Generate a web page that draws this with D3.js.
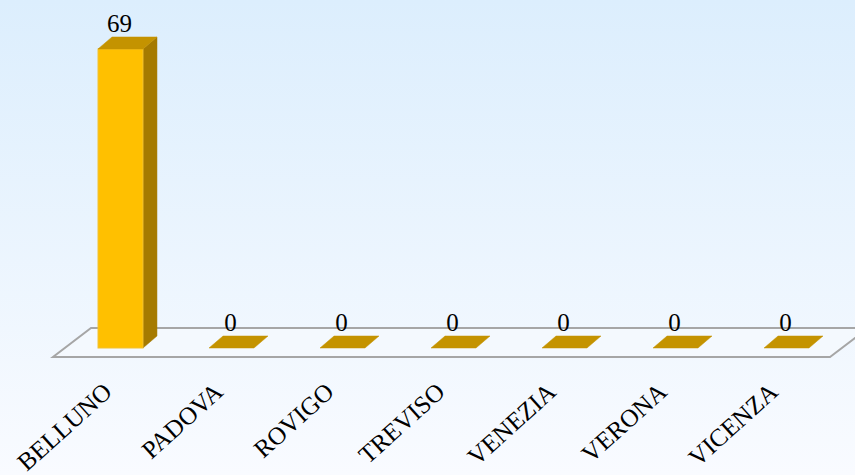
<!DOCTYPE html>
<html>
<head>
<meta charset="utf-8">
<script src="https://cdn.jsdelivr.net/npm/d3@7/dist/d3.min.js"></script>
<style>
  html, body { margin: 0; padding: 0; overflow: hidden; }
  svg { display: block; }
</style>
</head>
<body>
<svg id="chart" width="855" height="475"></svg>
<script>
const categories = ["BELLUNO", "PADOVA", "ROVIGO", "TREVISO", "VENEZIA", "VERONA", "VICENZA"];
const values = [69, 0, 0, 0, 0, 0, 0];
const valueLabels = ["69", "0", "0", "0", "0", "0", "0"];

const W = 855, H = 475;
const FONT = "'Liberation Serif', 'Times New Roman', Times, 'DejaVu Serif', serif";
const svg = d3.select("#chart");

// background gradient
const defs = svg.append("defs");
const bg = defs.append("linearGradient").attr("id", "bg").attr("x1", 0).attr("y1", 0).attr("x2", 0).attr("y2", 1);
bg.append("stop").attr("offset", "0%").attr("stop-color", "#DCEEFD");
bg.append("stop").attr("offset", "100%").attr("stop-color", "#F9FBFF");
svg.append("rect").attr("width", W).attr("height", H).attr("fill", "url(#bg)");

// floor geometry
const floorFrontY = 357;
const floorDX = 38, floorDY = -29;
const x = d3.scaleBand().domain(categories).range([53, 830]).paddingInner(0.595).paddingOuter(0.2975);
const barShiftX = 12;           // bars sit part way into the floor depth
const y = d3.scaleLinear().domain([0, 80]).range([348, 1.3]);
const bdx = 14, bdy = -12;      // bar depth

const r = x.range();
svg.append("path")
  .attr("d", `M${r[0]},${floorFrontY} L${r[1]},${floorFrontY} L${r[1] + floorDX},${floorFrontY + floorDY} L${r[0] + floorDX},${floorFrontY + floorDY} Z`)
  .attr("fill", "#F7FAFE").attr("fill-opacity", 0.6)
  .attr("stroke", "#A6A6A6").attr("stroke-width", 2).attr("stroke-linejoin", "miter");

const g = svg.append("g");
categories.forEach((c, i) => {
  const x0 = x(c) + barShiftX, x1 = x0 + x.bandwidth();
  const yb = y(0), yt = y(values[i]);
  if (values[i] > 0) {
    g.append("path").attr("d", `M${x1},${yb} L${x1 + bdx},${yb + bdy} L${x1 + bdx},${yt + bdy} L${x1},${yt} Z`)
      .attr("fill", "#A57A00").attr("stroke", "#A57A00").attr("stroke-width", 0.5);
    g.append("rect").attr("x", x0).attr("y", yt).attr("width", x.bandwidth()).attr("height", yb - yt)
      .attr("fill", "#FFC000").attr("stroke", "#F2C12E").attr("stroke-width", 1);
  }
  g.append("path").attr("d", `M${x0},${yt} L${x1},${yt} L${x1 + bdx},${yt + bdy} L${x0 + bdx},${yt + bdy} Z`)
    .attr("fill", "#C49300").attr("stroke", "#C49300").attr("stroke-width", 0.5);
  g.append("text").attr("x", x0 + x.bandwidth() / 2 - 1).attr("y", yt + bdy - 5)
    .attr("text-anchor", "middle").attr("font-size", 25)
    .attr("font-family", FONT).style("font-family", FONT).attr("fill", "#000")
    .text(valueLabels[i]);
});

// category labels
categories.forEach(c => {
  const cx = x(c) + barShiftX + x.bandwidth() / 2 - 7;
  const cy = 394;
  svg.append("text").attr("transform", `translate(${cx},${cy}) rotate(-42)`)
    .attr("text-anchor", "end").attr("font-size", 25)
    .attr("font-family", FONT).style("font-family", FONT).attr("fill", "#000")
    .text(c);
});
</script>
</body>
</html>
